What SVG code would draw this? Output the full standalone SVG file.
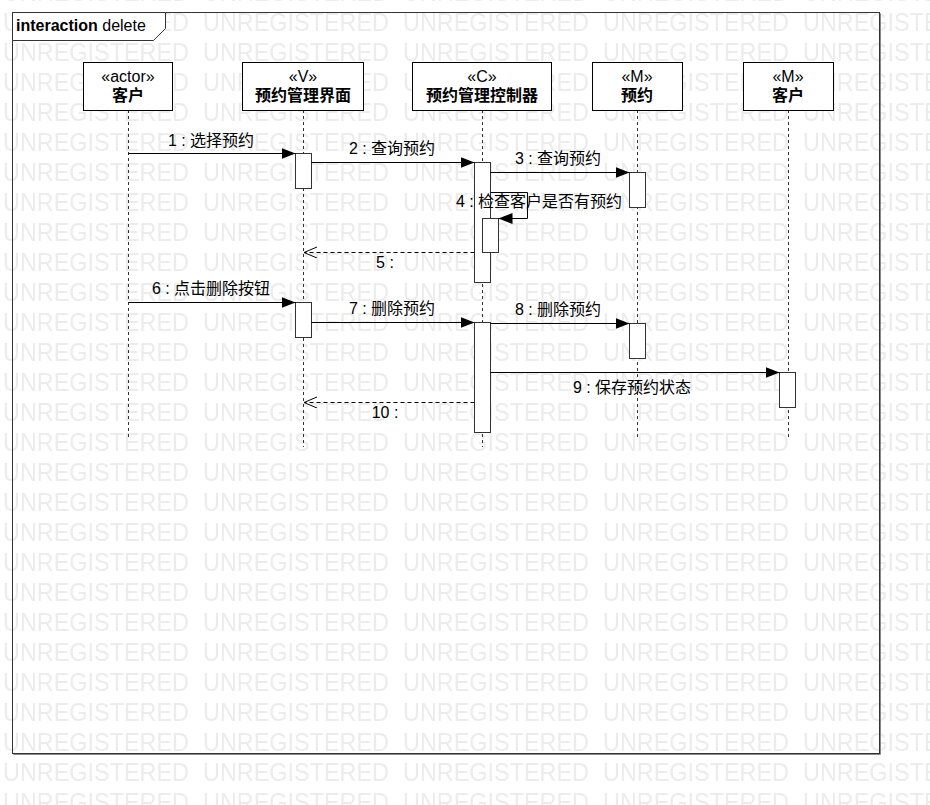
<svg xmlns="http://www.w3.org/2000/svg" width="930" height="805" viewBox="0 0 930 805">
  <style>
    text { font-family: "Liberation Sans", "Noto Sans CJK SC", sans-serif; fill: #000; }
    .wm { font-size: 25px; fill: #ececec; }
    .head { fill: #fff; stroke: #000; stroke-width: 1; }
    .st { font-size: 16px; text-anchor: middle; }
    .nm { font-size: 16px; font-weight: bold; text-anchor: middle; }
    .life { stroke: #333; stroke-width: 1; stroke-dasharray: 3 3; fill: none; }
    .act { fill: #fff; stroke: #333; stroke-width: 1; }
    .msg { stroke: #000; stroke-width: 1; fill: none; marker-end: url(#filled); }
    .ret { stroke: #000; stroke-width: 1; fill: none; stroke-dasharray: 4 3; marker-end: url(#open); }
    .lbl { font-size: 16px; text-anchor: middle; }
  </style>
  <defs>
    <pattern id="wmPat" patternUnits="userSpaceOnUse" x="0" y="1" width="200" height="30">
      <text class="wm" x="3" y="30" textLength="186" lengthAdjust="spacingAndGlyphs">UNREGISTERED</text>
    </pattern>
    <marker id="filled" markerUnits="userSpaceOnUse" markerWidth="14" markerHeight="12" refX="14" refY="5.5" orient="auto">
      <path d="M0,0 L14,5.5 L0,11 Z" fill="#000"/>
    </marker>
    <marker id="open" markerUnits="userSpaceOnUse" markerWidth="14" markerHeight="12" refX="13" refY="5.5" orient="auto">
      <path d="M0,0 L13,5.5 L0,11" fill="none" stroke="#000" stroke-width="1"/>
    </marker>
  </defs>

  <rect x="0" y="0" width="930" height="805" fill="#fff"/>
  <rect id="watermark" x="0" y="0" width="930" height="805" fill="url(#wmPat)"/>

  <g id="frame">
    <path d="M13.5,754.5 H880.5 V13.5" fill="none" stroke="#888" stroke-width="1"/>
    <rect x="12.5" y="12.5" width="867" height="741" fill="none" stroke="#333" stroke-width="1"/>
    <path d="M12.5,12.5 H165.5 V28.5 L153.5,40.5 H12.5 Z" fill="#fff" stroke="#333" stroke-width="1"/>
    <text x="16" y="31" font-size="16px"><tspan font-weight="bold">interaction</tspan> delete</text>
  </g>

  <g id="lifeline-customer-actor">
    <line class="life" x1="128.5" y1="110" x2="128.5" y2="438"/>
    <rect class="head" x="83.5" y="62.5" width="89" height="48"/>
    <text class="st" x="128" y="82">«actor»</text>
    <text class="nm" x="128" y="101">客户</text>
  </g>

  <g id="lifeline-view">
    <line class="life" x1="303.5" y1="110" x2="303.5" y2="447"/>
    <rect class="head" x="242.5" y="62.5" width="121" height="48"/>
    <text class="st" x="303" y="82">«V»</text>
    <text class="nm" x="303" y="101">预约管理界面</text>
    <rect class="act" x="295.5" y="153.5" width="16" height="35"/>
    <rect class="act" x="295.5" y="302.5" width="16" height="35"/>
  </g>

  <g id="lifeline-controller">
    <line class="life" x1="482.5" y1="110" x2="482.5" y2="447"/>
    <rect class="head" x="412.5" y="62.5" width="139" height="48"/>
    <text class="st" x="482" y="82">«C»</text>
    <text class="nm" x="482" y="101">预约管理控制器</text>
    <rect class="act" x="474.5" y="162.5" width="16" height="120"/>
    <rect class="act" x="482.5" y="218.5" width="16" height="34"/>
    <rect class="act" x="474.5" y="322.5" width="16" height="110"/>
  </g>

  <g id="lifeline-reservation">
    <line class="life" x1="637.5" y1="110" x2="637.5" y2="440"/>
    <rect class="head" x="592.5" y="62.5" width="90" height="48"/>
    <text class="st" x="637" y="82">«M»</text>
    <text class="nm" x="637" y="101">预约</text>
    <rect class="act" x="629.5" y="172.5" width="16" height="35"/>
    <rect class="act" x="629.5" y="323.5" width="16" height="35"/>
  </g>

  <g id="lifeline-customer-model">
    <line class="life" x1="788.5" y1="110" x2="788.5" y2="440"/>
    <rect class="head" x="743.5" y="62.5" width="90" height="48"/>
    <text class="st" x="788" y="82">«M»</text>
    <text class="nm" x="788" y="101">客户</text>
    <rect class="act" x="779.5" y="372.5" width="16" height="35"/>
  </g>

  <g id="connectors">
    <line class="msg" x1="128.5" y1="153.5" x2="295.5" y2="153.5"/>
    <text class="lbl" x="211" y="146">1 : 选择预约</text>

    <line class="msg" x1="311.5" y1="162.5" x2="474.5" y2="162.5"/>
    <text class="lbl" x="392" y="154">2 : 查询预约</text>

    <line class="msg" x1="490.5" y1="172.5" x2="629.5" y2="172.5"/>
    <text class="lbl" x="558" y="164">3 : 查询预约</text>

    <polyline class="msg" points="490.5,192.5 527.5,192.5 527.5,218.5 498.5,218.5"/>
    <text class="lbl" x="539" y="207">4 : 检查客户是否有预约</text>

    <line class="ret" x1="474.5" y1="252.5" x2="304" y2="252.5"/>
    <text class="lbl" x="385" y="268">5 :</text>

    <line class="msg" x1="128.5" y1="302.5" x2="295.5" y2="302.5"/>
    <text class="lbl" x="211" y="294">6 : 点击删除按钮</text>

    <line class="msg" x1="311.5" y1="322.5" x2="474.5" y2="322.5"/>
    <text class="lbl" x="392" y="314">7 : 删除预约</text>

    <line class="msg" x1="490.5" y1="323.5" x2="629.5" y2="323.5"/>
    <text class="lbl" x="558" y="315">8 : 删除预约</text>

    <line class="msg" x1="490.5" y1="372.5" x2="779.5" y2="372.5"/>
    <text class="lbl" x="632" y="393">9 : 保存预约状态</text>

    <line class="ret" x1="474.5" y1="402.5" x2="304" y2="402.5"/>
    <text class="lbl" x="385" y="418">10 :</text>
  </g>
</svg>
